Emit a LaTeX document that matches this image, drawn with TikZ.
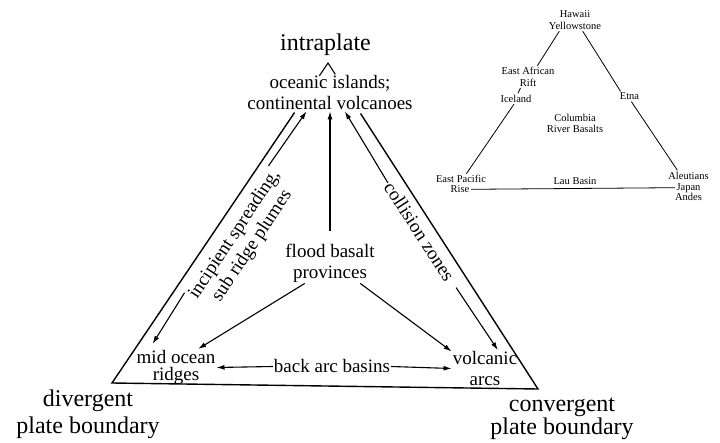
\documentclass[tikz,border=0pt]{standalone}
\usepackage{fontspec}
\setmainfont{Liberation Serif}
\usetikzlibrary{arrows.meta, positioning, calc}

\tikzset{
  side/.style={line width=1.4pt},
  arr/.style={-{Latex[length=8pt,width=5pt]}, line width=1.1pt},
  lbl/.style={font=\fontsize{19}{21}\selectfont, align=center, inner sep=1pt},
  cornerlbl/.style={font=\fontsize{24}{25}\selectfont, align=center, inner sep=1pt},
  smalllbl/.style={font=\fontsize{10.5}{11.5}\selectfont, align=center, inner sep=1.5pt},
  insetline/.style={line width=0.8pt}
}

\begin{document}
\begin{tikzpicture}[x=1pt, y=1pt]
\fill[white] (0,0) rectangle (720,442);
\useasboundingbox (0,0) rectangle (720,442);

\coordinate (dv) at (112,59);
\coordinate (cg) at (538,53);
\coordinate (apex) at (328,379);

\node[cornerlbl, anchor=base] (ip) at (325.5,391) {intraplate};
\node[lbl] (cv) at (330,349) {oceanic islands;\\continental volcanoes};
\node[lbl] (fb) at (330,179) {flood basalt\\provinces};
\node[lbl] (mor) at (176,74.5) {mid ocean\\[-3.5pt]ridges};
\node[lbl] (va) at (485,73.5) {volcanic\\arcs};
\node[lbl] (bab) at (332,75.5) {back arc basins};
\node[lbl, rotate=56.5] (sp) at (243.5,201.5) {incipient spreading,\\sub ridge plumes};
\node[lbl, rotate=-57] (cz) at (419.5,210.5) {collision zones};
\node[cornerlbl] (dvl) at (88,27.8) {divergent\\[1.3pt]plate boundary};
\node[cornerlbl] (cgl) at (562,22.8) {convergent\\[-2pt]plate boundary};

\draw[side] ($(dv)!0.845!(apex)$) -- (dv) -- (cg) -- ($(cg)!0.845!(apex)$);
\draw[side, line width=1.1pt] ($(dv)!0.96!(apex)$) -- (apex) -- ($(cg)!0.965!(apex)$);

\draw[arr, shorten <=12pt] (fb.north) -- (cv.south);
\draw[arr] (fb.219) -- (mor.40);
\draw[arr] (fb.-34) -- (va.153);
\draw[arr] (bab.west) -- (mor.east);
\draw[arr] (bab.east) -- (va.west);
\draw[arr, shorten >=6pt] (sp.north west) -- (mor.145);
\draw[arr] (sp.north east) -- (cv.218);
\draw[arr] (cz.west) -- (cv.-51);
\draw[arr, shorten <=9pt] (cz.east) -- (va.55);

\node[smalllbl] (hy) at (575,421.8) {Hawaii\\Yellowstone};
\node[smalllbl] (ea) at (528,365.1) {East African\\Rift};
\node[smalllbl] (ic) at (516,343.3) {Iceland};
\node[smalllbl] (et) at (629.5,345.5) {Etna};
\node[smalllbl] (crb) at (575,318.4) {Columbia\\River Basalts};
\node[smalllbl] (ep) at (461,262.9) {East Pacific};
\node[smalllbl] (rs) at (460,252.7) {Rise};
\node[smalllbl] (lb) at (575,260.6) {Lau Basin};
\node[smalllbl] (al) at (688.5,266.3) {Aleutians};
\node[smalllbl] (jp) at (688.5,254.3) {Japan};
\node[smalllbl] (an) at (688.5,244.9) {Andes};

\draw[insetline] (hy.215) -- (ea.50);
\draw[insetline] (ea.-124) -- (ic.70);
\draw[insetline] (ic.-110) -- (ep.45);
\draw[insetline] (hy.-55) -- (et.150);
\draw[insetline] (et.-70) -- (al.154);
\draw[insetline] (rs.east) -- (jp.west);
\end{tikzpicture}
\end{document}
